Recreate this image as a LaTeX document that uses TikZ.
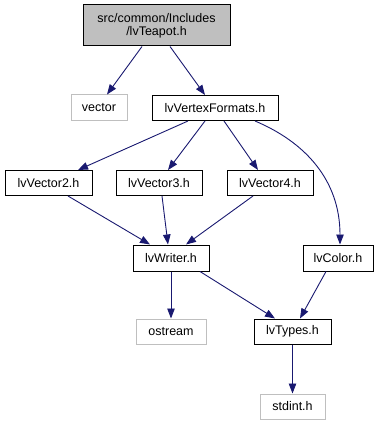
\documentclass[tikz,border=0pt]{standalone}
\usepackage{fontspec}
\setmainfont{Liberation Sans}
\usetikzlibrary{arrows.meta,calc}
\definecolor{edgeblue}{HTML}{191970}
\definecolor{sysgray}{HTML}{BFBFBF}
\begin{document}
\begin{tikzpicture}[x=1pt,y=-1pt,
  hdr/.style={draw=black,line width=1pt,fill=white,rectangle,inner sep=0pt,
    minimum height=25pt,font=\fontsize{12.5}{14}\selectfont},
  sys/.style={hdr,draw=sysgray},
  cur/.style={hdr,fill=sysgray,align=center},
  dep/.style={draw=edgeblue,line width=0.9pt,
    -{Triangle[length=10pt,width=7.5pt]}}]
\useasboundingbox (0,0) rectangle (380,425);

% headers
\node[cur,minimum width=147pt,minimum height=41pt] (teapot) at (156.5,25.5)
  {src/common/Includes\\[-1pt]/lvTeapot.h};
\node[sys,minimum width=56pt] (vector) at (99,107.5) {vector};
\node[hdr,minimum width=126pt] (vf) at (215,108) {lvVertexFormats.h};
\node[hdr,minimum width=87pt] (v2) at (48.5,183) {lvVector2.h};
\node[hdr,minimum width=86pt] (v3) at (159,183) {lvVector3.h};
\node[hdr,minimum width=86pt] (v4) at (270,183) {lvVector4.h};
\node[hdr,minimum width=76pt,minimum height=26pt] (writer) at (171,258) {lvWriter.h};
\node[hdr,minimum width=70pt,minimum height=26pt] (color) at (338,258) {lvColor.h};
\node[sys,minimum width=70pt] (ostream) at (171,331.5) {ostream};
\node[hdr,minimum width=77pt] (types) at (292.5,331.5) {lvTypes.h};
\node[sys,minimum width=65pt] (stdint) at (292.5,406.5) {stdint.h};

% include edges
\draw[dep] ($(teapot.south)+(-14.5,0)$) -- ($(vector.north)+(8,0)$);
\draw[dep] ($(teapot.south)+(13.5,0)$) -- ($(vf.north)+(-10,0)$);
\draw[dep] ($(vf.south)+(-27,0)$) -- ($(v2.north)+(29.5,0)$);
\draw[dep] ($(vf.south)+(-10,0)$) -- ($(v3.north)+(9,0)$);
\draw[dep] ($(vf.south)+(9,0)$) -- ($(v4.north)+(-12,0)$);
\draw[dep] ($(vf.south)+(40,0)$) .. controls (305,142) and (340,180) .. ($(color.north)+(2,0)$);
\draw[dep] ($(v2.south)+(19.5,0)$) -- ($(writer.north)+(-21,0)$);
\draw[dep] ($(v3.south)+(3,0)$) -- ($(writer.north)+(-3,0)$);
\draw[dep] ($(v4.south)+(-17,0)$) -- ($(writer.north)+(15,0)$);
\draw[dep] (writer.south) -- (ostream.north);
\draw[dep] ($(writer.south)+(29,0)$) -- ($(types.north)+(-17.5,0)$);
\draw[dep] ($(color.south)+(-12,0)$) -- ($(types.north)+(7.5,0)$);
\draw[dep] (types.south) -- (stdint.north);
\end{tikzpicture}
\end{document}
